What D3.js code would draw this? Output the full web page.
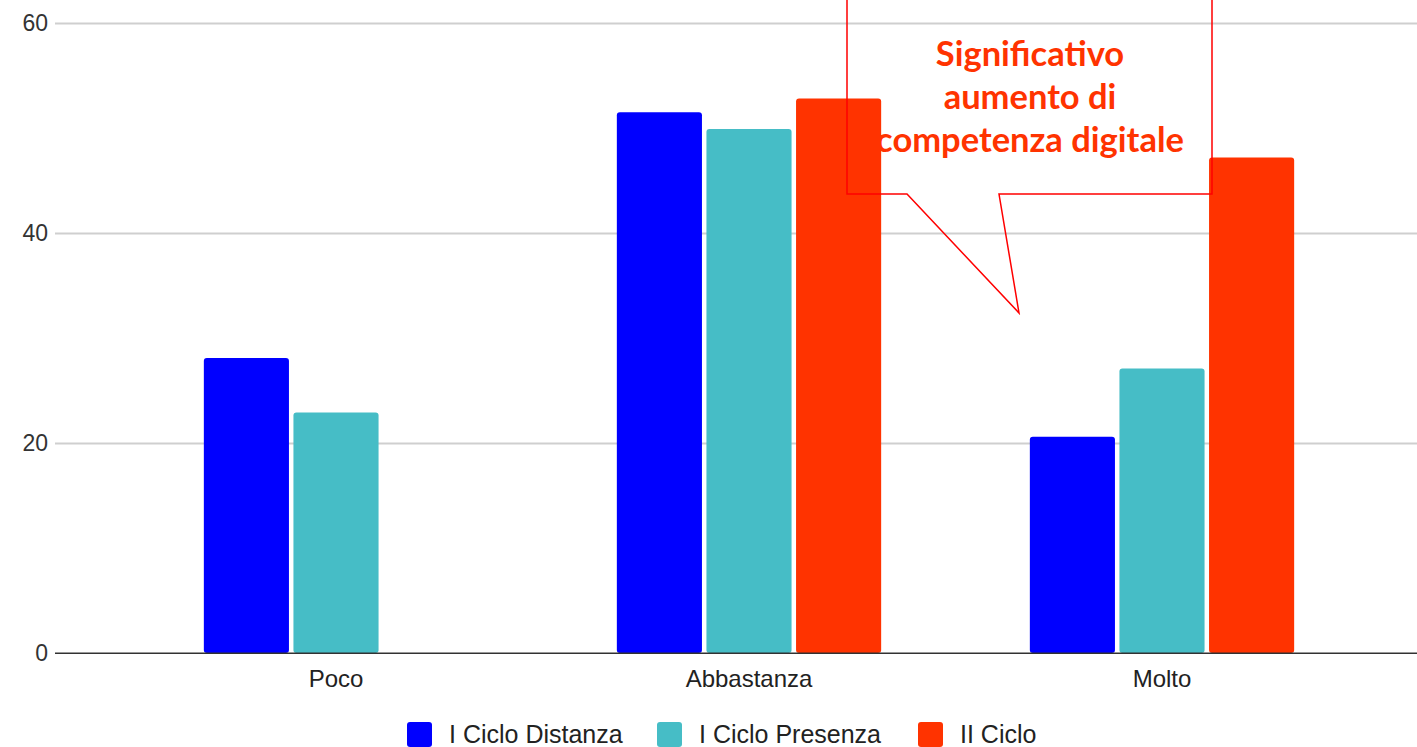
<!DOCTYPE html>
<html><head><meta charset="utf-8">
<script src="https://cdn.jsdelivr.net/npm/d3@7"></script>
<style>body{margin:0;background:#fff;}svg{display:block;}</style>
</head><body>
<svg id="c" width="1417" height="747"></svg>
<script>
const categories = ["Poco", "Abbastanza", "Molto"];
const seriesNames = ["I Ciclo Distanza", "I Ciclo Presenza", "II Ciclo"];
const seriesColors = ["#0000ff", "#46bdc6", "#ff3300"];
const iCicloDistanza = [28.1, 51.5, 20.6];
const iCicloPresenza = [22.9, 49.9, 27.1];
const iiCiclo = [null, 52.8, 47.2];
const yTicks = [0, 20, 40, 60];
const calloutLines = ["Significativo", "aumento di", "competenza digitale"];

const seriesValues = [iCicloDistanza, iCicloPresenza, iiCiclo];
const svg = d3.select("#c");

const y = d3.scaleLinear().domain([0, 60]).range([653, 23]);
const x0 = d3.scaleBand().domain(categories).range([129.5, 1368.5]).paddingInner(0.36).paddingOuter(0.18);
const x1 = d3.scaleBand().domain(seriesNames).range([0, x0.bandwidth()]).paddingInner(0.05);

// gridlines
const yAxis = d3.axisLeft(y).tickValues(yTicks).tickSize(-(1417 - 55)).tickFormat(d3.format("d"));
const ga = svg.append("g").attr("transform", "translate(55,0)").call(yAxis);
ga.select(".domain").remove();
ga.selectAll(".tick line").attr("stroke", d => d === 0 ? "#333" : "#cfcfcf").attr("stroke-width", d => d === 0 ? 1.2 : 2);
ga.selectAll(".tick text").attr("x", -7).attr("font-family", "Liberation Sans, Arial, sans-serif").attr("font-size", 23).attr("fill", "#333");

// bars
const groups = svg.append("g").selectAll("g").data(categories).join("g")
  .attr("transform", d => `translate(${x0(d)},0)`);
groups.selectAll("rect")
  .data((c, ci) => seriesNames.map((s, si) => ({ s, si, v: seriesValues[si][ci] })).filter(d => d.v != null))
  .join("rect")
  .attr("x", d => x1(d.s))
  .attr("width", x1.bandwidth())
  .attr("y", d => y(d.v))
  .attr("height", d => y(0) - y(d.v))
  .attr("rx", 3)
  .attr("fill", d => seriesColors[d.si]);

// redraw zero line on top
svg.append("line").attr("x1", 55).attr("x2", 1417).attr("y1", y(0)).attr("y2", y(0)).attr("stroke", "#333").attr("stroke-width", 1.2);

// x axis labels
const xAxis = d3.axisBottom(x0).tickSize(0).tickPadding(0);
const gx = svg.append("g").attr("transform", `translate(0,${y(0)})`).call(xAxis);
gx.select(".domain").remove();
gx.selectAll(".tick text").attr("dy", 0).attr("y", 34).attr("font-family", "Liberation Sans, Arial, sans-serif").attr("font-size", 24).attr("fill", "#222");

// legend
const legendX = [407, 657, 918];
const lg = svg.append("g").selectAll("g").data(seriesNames).join("g")
  .attr("transform", (d, i) => `translate(${legendX[i]},722)`);
lg.append("rect").attr("width", 25).attr("height", 25).attr("rx", 3).attr("fill", (d, i) => seriesColors[i]);
lg.append("text").attr("x", 42).attr("y", 21).text(d => d)
  .attr("font-family", "Liberation Sans, Arial, sans-serif").attr("font-size", 25).attr("fill", "#222");

// callout
const co = svg.append("g");
co.append("path")
  .attr("d", "M847,-5 L847,194 L907,194 L1019,313 L999,194 L1212,194 L1212,-5")
  .attr("fill", "none").attr("stroke", "#ff0000").attr("stroke-width", 1.5);
co.selectAll("text").data(calloutLines).join("text")
  .attr("x", 1030).attr("y", (d, i) => 66 + i * 43)
  .attr("text-anchor", "middle")
  .attr("font-family", "Lato, sans-serif").attr("font-weight", "bold").attr("font-size", 34.5)
  .attr("fill", "#ff3300").text(d => d);
</script>
</body></html>
